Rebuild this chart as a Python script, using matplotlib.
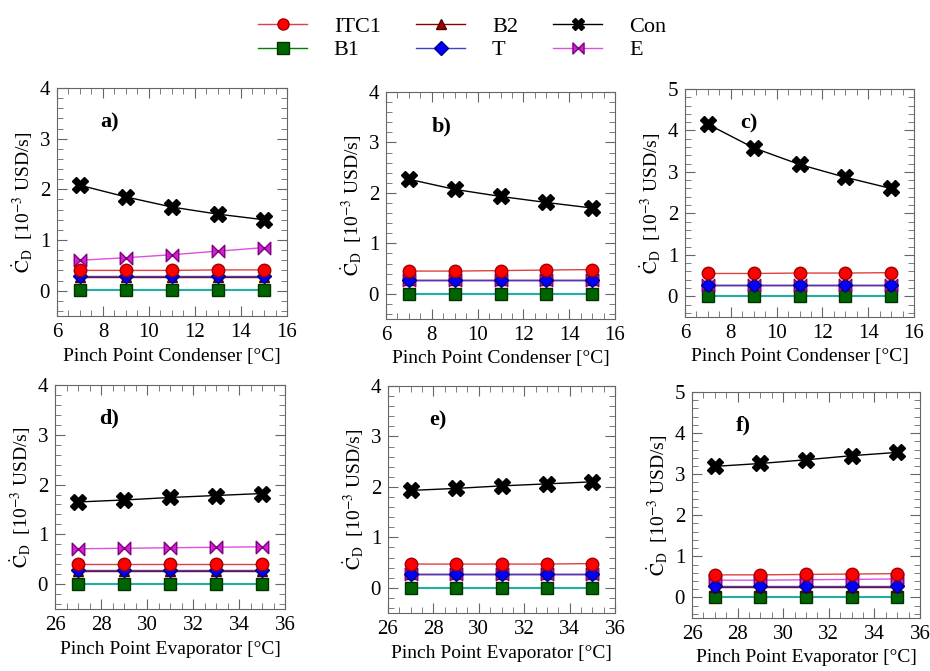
import numpy as np
import matplotlib
matplotlib.use("Agg")
import matplotlib.pyplot as plt
from matplotlib.ticker import MultipleLocator
from matplotlib.lines import Line2D
from matplotlib.path import Path

plt.rcParams['font.family'] = ['Liberation Serif', 'DejaVu Serif']
plt.rcParams['mathtext.fontset'] = 'stix'

# x values
pp_cond = [7, 9, 11, 13, 15]
pp_evap = [27, 29, 31, 33, 35]

# a) condenser
a_con = [2.08, 1.85, 1.65, 1.51, 1.40]
a_e = [0.60, 0.65, 0.71, 0.78, 0.85]
a_itc1 = [0.40, 0.40, 0.40, 0.41, 0.41]
a_t = [0.28, 0.28, 0.28, 0.28, 0.28]
a_b2 = [0.27, 0.27, 0.27, 0.27, 0.27]
a_b1 = [0.02, 0.02, 0.02, 0.02, 0.02]

# b)
b_con = [2.27, 2.07, 1.93, 1.81, 1.70]
b_e = [0.28, 0.28, 0.28, 0.28, 0.28]
b_itc1 = [0.45, 0.45, 0.46, 0.47, 0.48]
b_t = [0.28, 0.28, 0.28, 0.28, 0.28]
b_b2 = [0.27, 0.27, 0.27, 0.27, 0.27]
b_b1 = [0.0, 0.0, 0.0, 0.0, 0.0]

# c)
c_con = [4.15, 3.58, 3.18, 2.87, 2.60]
c_e = [0.28, 0.28, 0.28, 0.28, 0.28]
c_itc1 = [0.55, 0.55, 0.56, 0.56, 0.57]
c_t = [0.28, 0.28, 0.28, 0.28, 0.28]
c_b2 = [0.27, 0.27, 0.27, 0.27, 0.27]
c_b1 = [0.01, 0.01, 0.01, 0.01, 0.01]

# d) evaporator
d_con = [1.65, 1.69, 1.74, 1.78, 1.82]
d_e = [0.71, 0.72, 0.73, 0.74, 0.75]
d_itc1 = [0.40, 0.40, 0.40, 0.40, 0.40]
d_t = [0.28, 0.28, 0.28, 0.28, 0.28]
d_b2 = [0.27, 0.27, 0.27, 0.27, 0.27]
d_b1 = [0.01, 0.01, 0.01, 0.01, 0.01]

# e)
e_con = [1.93, 1.97, 2.02, 2.06, 2.10]
e_e = [0.27, 0.27, 0.27, 0.27, 0.27]
e_itc1 = [0.47, 0.47, 0.47, 0.47, 0.48]
e_t = [0.28, 0.28, 0.28, 0.28, 0.28]
e_b2 = [0.27, 0.27, 0.27, 0.27, 0.27]
e_b1 = [0.0, 0.0, 0.0, 0.0, 0.0]

# f)
f_con = [3.19, 3.26, 3.35, 3.45, 3.53]
f_e = [0.42, 0.42, 0.43, 0.44, 0.45]
f_itc1 = [0.55, 0.55, 0.56, 0.57, 0.58]
f_t = [0.27, 0.27, 0.27, 0.27, 0.27]
f_b2 = [0.26, 0.26, 0.26, 0.26, 0.26]
f_b1 = [0.0, 0.0, 0.0, 0.0, 0.0]

panels = [
    ('a)', pp_cond, a_con, a_e, a_itc1, a_t, a_b2, a_b1, 4, 'Pinch Point Condenser [°C]'),
    ('b)', pp_cond, b_con, b_e, b_itc1, b_t, b_b2, b_b1, 4, 'Pinch Point Condenser [°C]'),
    ('c)', pp_cond, c_con, c_e, c_itc1, c_t, c_b2, c_b1, 5, 'Pinch Point Condenser [°C]'),
    ('d)', pp_evap, d_con, d_e, d_itc1, d_t, d_b2, d_b1, 4, 'Pinch Point Evaporator [°C]'),
    ('e)', pp_evap, e_con, e_e, e_itc1, e_t, e_b2, e_b1, 4, 'Pinch Point Evaporator [°C]'),
    ('f)', pp_evap, f_con, f_e, f_itc1, f_t, f_b2, f_b1, 5, 'Pinch Point Evaporator [°C]'),
]
label_x = [0.19, 0.2, 0.24, 0.19, 0.18, 0.19]

# axes boxes in pixels: left, top, right, bottom
boxes = [(57, 88, 287, 316), (386, 92, 615, 319), (685, 89, 914, 317),
         (55, 385, 285, 609), (388, 386, 615, 613), (692, 392, 920, 618)]

# bowtie marker for E
bowtie = Path([(-1, 1), (0, 0), (-1, -1), (-1, 1), (1, 1), (0, 0), (1, -1), (1, 1)],
              [Path.MOVETO, Path.LINETO, Path.LINETO, Path.CLOSEPOLY,
               Path.MOVETO, Path.LINETO, Path.LINETO, Path.CLOSEPOLY])

W, H = 930, 671
fig = plt.figure(figsize=(W / 100, H / 100), dpi=100)

styles = {
    'B1': dict(color='#20b0a0', marker='s', mfc='#006400', mec='#003300', ms=8),
    'B2': dict(color='#8b0000', marker='^', mfc='#a00000', mec='#500000', ms=7),
    'T': dict(color='#4040c0', marker='D', mfc='#0000ff', mec='#000080', ms=7.5),
    'E': dict(color='#e050e0', marker=bowtie, mfc='#d020d0', mec='#800080', ms=9),
    'ITC1': dict(color='#e04040', marker='o', mfc='#ff0000', mec='#a00000', ms=9),
    'Con': dict(color='black', marker='X', mfc='black', mec='black', ms=11),
}
spine_c = '#666666'

for i, ((lab, xs, con, e, itc1, t, b2, b1, ymax, xlabel), (l, tp, r, b)) in enumerate(zip(panels, boxes)):
    ax = fig.add_axes([l / W, 1 - b / H, (r - l) / W, (b - tp) / H])
    ax.plot(xs, b1, lw=1.5, zorder=2, **styles['B1'])
    ax.plot(xs, b2, lw=1, zorder=2, **styles['B2'])
    ax.plot(xs, e, lw=1, zorder=2, **styles['E'])
    ax.plot(xs, t, lw=1, zorder=3, **styles['T'])
    ax.plot(xs, itc1, lw=1, zorder=3, **styles['ITC1'])
    ax.plot(xs, con, lw=1, zorder=4, **styles['Con'])

    x0 = xs[0] - 1
    ax.set_xlim(x0, x0 + 10)
    ax.set_ylim(-0.5, ymax)
    ax.xaxis.set_major_locator(MultipleLocator(2))
    ax.xaxis.set_minor_locator(MultipleLocator(0.5))
    ax.yaxis.set_major_locator(MultipleLocator(1))
    ax.yaxis.set_minor_locator(MultipleLocator(0.2))
    ax.tick_params(which='both', direction='in', top=True, right=True, labelsize=15,
                   color=spine_c, pad=5)
    ax.tick_params(which='major', length=7)
    ax.tick_params(which='minor', length=4)
    for s in ax.spines.values():
        s.set_color(spine_c)
    ax.set_xlabel(xlabel, fontsize=14, labelpad=4)
    ax.set_ylabel(r'$\dot{\mathrm{C}}_{\mathrm{D}}$  [10$^{-3}$ USD/s]', fontsize=14, labelpad=3)
    ax.text(label_x[i], 0.85, lab, transform=ax.transAxes, fontsize=16, fontweight='bold',
            va='center')

handles = [
    Line2D([], [], lw=1, **{**styles['ITC1'], 'ms': 8}),
    Line2D([], [], lw=1, **{**styles['B1'], 'color': '#008000'}),
    Line2D([], [], lw=1, **styles['B2']),
    Line2D([], [], lw=1, **styles['T']),
    Line2D([], [], lw=1, **{**styles['Con'], 'ms': 8}),
    Line2D([], [], lw=1, **{**styles['E'], 'ms': 8}),
]
labels = ['ITC1', 'B1', 'B2', 'T', 'Con', 'E']
fig.legend(handles, labels, ncol=3, loc='upper center', bbox_to_anchor=(0.497, 1.005),
           frameon=False, fontsize=16, handlelength=2.2, columnspacing=1.6,
           handletextpad=1.2, labelspacing=0.12)

fig.savefig('out.png', dpi=100)
